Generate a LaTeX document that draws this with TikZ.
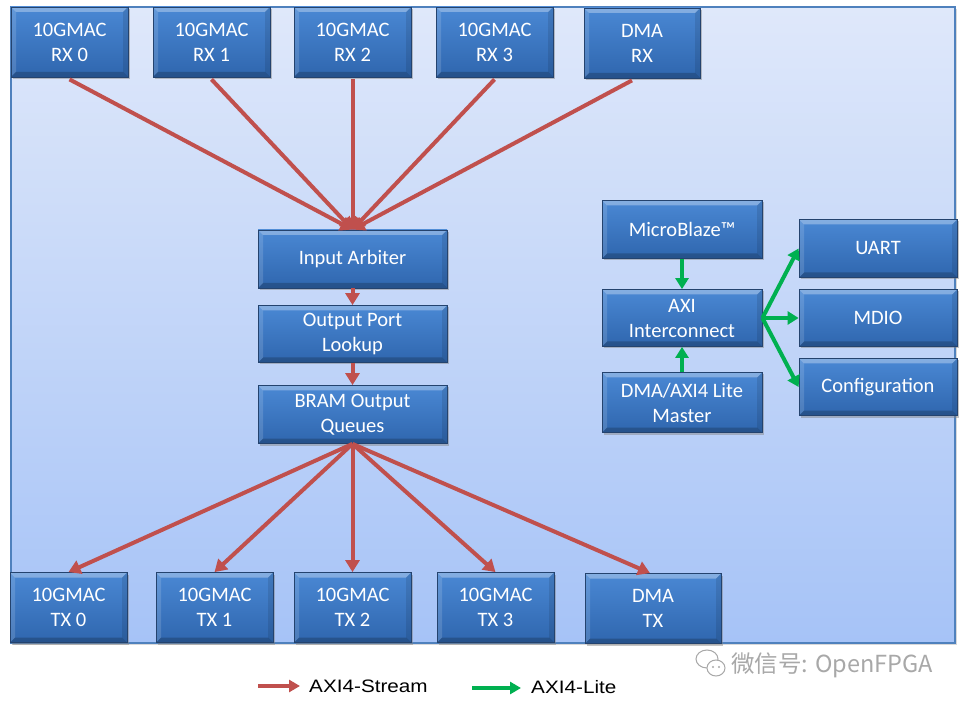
\documentclass[tikz,border=0pt]{standalone}
\usepackage{fontspec}
\setmainfont{Carlito}
\newfontfamily\legfont{Liberation Sans}
\newfontfamily\cjkfont{Noto Sans CJK SC}
\usetikzlibrary{arrows.meta,shadows}
\definecolor{redarr}{HTML}{C0504D}
\definecolor{greenarr}{HTML}{00B050}
\definecolor{boxtop}{HTML}{4A88D4}
\definecolor{boxbot}{HTML}{2F66AE}
\definecolor{boxline}{HTML}{24436E}
\definecolor{bgtop}{HTML}{DFE8FA}
\definecolor{bgbot}{HTML}{A6C3F7}
\definecolor{bgline}{HTML}{4F81BD}
\definecolor{wmgray}{HTML}{A8A8A8}
\tikzset{
  box/.style={rectangle, draw=boxline, line width=0.8pt, top color=boxtop, bottom color=boxbot,
    text=white, font=\fontsize{20.5}{25}\selectfont, align=center, inner sep=0pt,
    drop shadow={shadow xshift=2pt, shadow yshift=-2pt, opacity=0.45},
    path picture={
      \fill[white,opacity=0.32] (path picture bounding box.north west) -- (path picture bounding box.north east)
        -- ([shift={(-5pt,-5pt)}]path picture bounding box.north east) -- ([shift={(5pt,-5pt)}]path picture bounding box.north west) -- cycle;
      \fill[white,opacity=0.14] (path picture bounding box.north west) -- ([shift={(5pt,-5pt)}]path picture bounding box.north west)
        -- ([shift={(5pt,5pt)}]path picture bounding box.south west) -- (path picture bounding box.south west) -- cycle;
      \fill[black,opacity=0.2] (path picture bounding box.south west) -- (path picture bounding box.south east)
        -- ([shift={(-5pt,5pt)}]path picture bounding box.south east) -- ([shift={(5pt,5pt)}]path picture bounding box.south west) -- cycle;
      \fill[black,opacity=0.10] (path picture bounding box.north east) -- ([shift={(-5pt,-5pt)}]path picture bounding box.north east)
        -- ([shift={(-5pt,5pt)}]path picture bounding box.south east) -- (path picture bounding box.south east) -- cycle;
    }},
  redarrow/.style={draw=redarr, line width=4pt, -{Triangle[width=14pt,length=12pt]}},
  greenarrow/.style={draw=greenarr, line width=4pt, -{Triangle[width=13pt,length=11pt]}},
  legtext/.style={anchor=base west, inner sep=0pt, font=\legfont\fontsize{18}{20}\selectfont, xscale=1.15}
}
\begin{document}
\begin{tikzpicture}[x=1pt,y=-1pt]
\useasboundingbox (0,0) rectangle (967,711);
\fill[white] (0,0) rectangle (967,711);
% container
\path[draw=bgline, line width=1.5pt, top color=bgtop, bottom color=bgbot,
  drop shadow={shadow xshift=2pt, shadow yshift=-2pt, opacity=0.3}] (11,7) rectangle (955,643);

% RX boxes
\node[box, minimum width=117pt, minimum height=70pt] (rx0) at (69.5,42) {10GMAC\\RX 0};
\node[box, minimum width=117pt, minimum height=70pt] (rx1) at (211.5,42) {10GMAC\\RX 1};
\node[box, minimum width=117pt, minimum height=70pt] (rx2) at (352.5,42) {10GMAC\\RX 2};
\node[box, minimum width=117pt, minimum height=70pt] (rx3) at (494.5,42) {10GMAC\\RX 3};
\node[box, minimum width=116pt, minimum height=70pt] (dmarx) at (642,43) {DMA\\RX};

% central pipeline
\node[box, minimum width=189pt, minimum height=58pt] (arb) at (352.5,259) {Input Arbiter};
\node[box, minimum width=189pt, minimum height=57pt] (opl) at (352.5,334) {Output Port\\Lookup};
\node[box, minimum width=189pt, minimum height=58pt] (bram) at (352.5,414.5) {BRAM Output\\Queues};

% control side
\node[box, minimum width=160pt, minimum height=58pt] (mb) at (682,229.5) {MicroBlaze™};
\node[box, minimum width=160pt, minimum height=57pt] (axi) at (682,318) {AXI\\Interconnect};
\node[box, minimum width=160pt, minimum height=60pt] (dmam) at (682,402.5) {DMA/AXI4 Lite\\Master};
\node[box, minimum width=158pt, minimum height=58pt] (uart) at (878,248.5) {UART};
\node[box, minimum width=158pt, minimum height=57pt] (mdio) at (878,318) {MDIO};
\node[box, minimum width=158pt, minimum height=57pt] (conf) at (878,387) {Configuration};

% TX boxes
\node[box, minimum width=117pt, minimum height=70pt] (tx0) at (68.5,607.5) {10GMAC\\TX 0};
\node[box, minimum width=117pt, minimum height=70pt] (tx1) at (214.5,607.5) {10GMAC\\TX 1};
\node[box, minimum width=117pt, minimum height=70pt] (tx2) at (352.5,607.5) {10GMAC\\TX 2};
\node[box, minimum width=117pt, minimum height=70pt] (tx3) at (495.5,607.5) {10GMAC\\TX 3};
\node[box, minimum width=136pt, minimum height=70pt] (dmatx) at (653,608.5) {DMA\\TX};

% red AXI4-Stream arrows
\draw[redarrow] ([yshift=-2pt]rx0.south) -- (arb.north);
\draw[redarrow] ([yshift=-2pt]rx1.south) -- (arb.north);
\draw[redarrow] ([yshift=-2pt]rx2.south) -- (arb.north);
\draw[redarrow] ([yshift=-2pt]rx3.south) -- (arb.north);
\draw[redarrow] ([xshift=-10pt,yshift=-2pt]dmarx.south) -- (arb.north);
\draw[redarrow] (arb.south) -- (opl.north);
\draw[redarrow] (opl.south) -- (bram.north);
\draw[redarrow] (bram.south) -- (tx0.north);
\draw[redarrow] (bram.south) -- (tx1.north);
\draw[redarrow] (bram.south) -- (tx2.north);
\draw[redarrow] (bram.south) -- (tx3.north);
\draw[redarrow] (bram.south) -- ([xshift=-3pt]dmatx.north);

% green AXI4-Lite arrows
\draw[greenarrow] (mb.south) -- (axi.north);
\draw[greenarrow] (dmam.north) -- (axi.south);
\draw[greenarrow] (axi.east) -- (uart.west);
\draw[greenarrow] (axi.east) -- (mdio.west);
\draw[greenarrow] (axi.east) -- (conf.west);

% legend
\coordinate (l1a) at (258,686);
\coordinate (l1b) at (300,686);
\coordinate (l2a) at (472,688);
\coordinate (l2b) at (521,688);
\draw[draw=redarr, line width=4.5pt, -{Triangle[width=12pt,length=11pt]}] (l1a) -- (l1b);
\draw[draw=greenarr, line width=4pt, -{Triangle[width=12pt,length=11pt]}] (l2a) -- (l2b);
\node[legtext] (lt1) at (309,692) {AXI4-Stream};
\node[legtext] (lt2) at (531,693) {AXI4-Lite};

% watermark
\draw[wmgray, line width=1pt, fill=white] (707,659) ellipse [x radius=11pt, y radius=9pt];
\draw[wmgray, line width=1pt, fill=white] (716,668) ellipse [x radius=9pt, y radius=8pt];
\fill[wmgray] (713,667) circle (1.1pt) (719,667) circle (1.1pt);
\node[anchor=west, inner sep=0pt, text=wmgray, font=\cjkfont\fontsize{23.5}{26}\selectfont] (wm) at (731,665) {微信号: OpenFPGA};
\end{tikzpicture}
\end{document}
